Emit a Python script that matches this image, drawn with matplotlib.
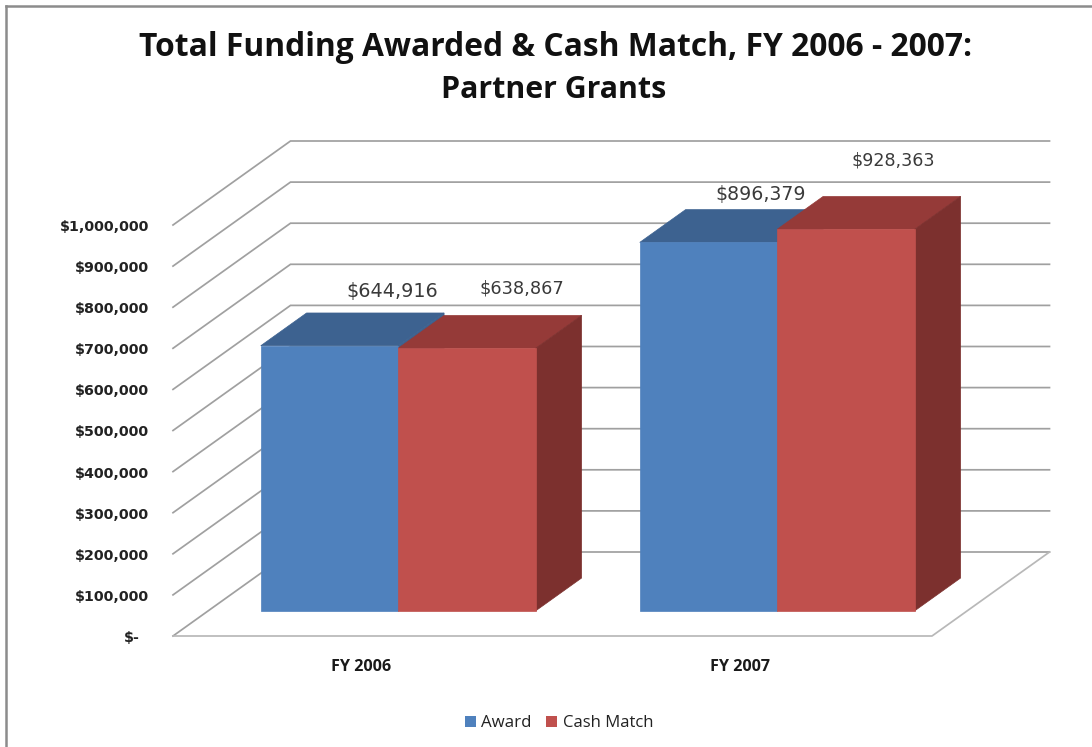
import numpy as np
import matplotlib
matplotlib.use("Agg")
import matplotlib.pyplot as plt
from matplotlib.patches import Polygon, Rectangle

# Data
categories = ["FY 2006", "FY 2007"]
award = [644916, 896379]
cash_match = [638867, 928363]
tick_values = [0, 100000, 200000, 300000, 400000, 500000, 600000, 700000, 800000, 900000, 1000000]
tick_labels = ["$-", "$100,000", "$200,000", "$300,000", "$400,000", "$500,000",
               "$600,000", "$700,000", "$800,000", "$900,000", "$1,000,000"]
award_labels = ["$644,916", "$896,379"]
cash_labels = ["$638,867", "$928,363"]

# Pixel geometry of the fake 3D box
W, H = 1092, 747
px_x0 = 363      # pixel x of first category
px_unit = 379.0  # pixels per category
px_y0 = 636      # pixel y of value 0 on front plane
px_per_dollar = 411 / 1e6
depth_dx = 117.5 / px_unit              # full floor depth, x shift in category units
depth_dy = 84 / px_per_dollar           # full floor depth, y shift in dollars
bar_w = 137.5 / px_unit
bar_d0 = 0.30   # front of bars, as part of floor depth
bar_d1 = 0.69   # back of bars

blue = ("#4F81BD", "#3D6290", "#3D6290")
red = ("#C0504D", "#953A38", "#7C302E")
grid_col = "#a0a0a0"


def proj(x, v, d=0.0):
    # oblique projection: category, value, depth -> data coords of flat axes
    return x + d * depth_dx, v + d * depth_dy


def px(xp, yp):
    # picture position -> data coords, only for placing text
    return (xp - px_x0) / px_unit, (px_y0 - yp) / px_per_dollar


fig = plt.figure(figsize=(W / 100, H / 100), dpi=100)
ax = fig.add_axes([0, 0, 1, 1])
ax.set_xlim(-px_x0 / px_unit, (W - px_x0) / px_unit)
ax.set_ylim((px_y0 - H) / px_per_dollar, px_y0 / px_per_dollar)
ax.axis("off")

x_left = -190 / px_unit
x_right = 569 / px_unit

# gridlines, side wall and back wall
for v in tick_values:
    pts = [proj(x_left, v, 0), proj(x_left, v, 1), proj(x_right, v, 1)]
    ax.plot(*zip(*pts), color=grid_col, lw=1.25, solid_joinstyle="miter", zorder=1)
# floor front edge
floor = [proj(x_left, 0, 0), proj(x_right, 0, 0), proj(x_right, 0, 1)]
ax.plot(*zip(*floor), color="#b8b8b8", lw=1.25, zorder=1)


def draw_bar(x_start, value, cols):
    x_end = x_start + bar_w
    front = [proj(x_start, 0, bar_d0), proj(x_end, 0, bar_d0),
             proj(x_end, value, bar_d0), proj(x_start, value, bar_d0)]
    top = [proj(x_start, value, bar_d0), proj(x_end, value, bar_d0),
           proj(x_end, value, bar_d1), proj(x_start, value, bar_d1)]
    side = [proj(x_end, 0, bar_d0), proj(x_end, 0, bar_d1),
            proj(x_end, value, bar_d1), proj(x_end, value, bar_d0)]
    ax.add_patch(Polygon(top, fc=cols[1], ec=cols[1], lw=0.5, zorder=2))
    ax.add_patch(Polygon(side, fc=cols[2], ec=cols[2], lw=0.5, zorder=2))
    ax.add_patch(Polygon(front, fc=cols[0], ec=cols[0], lw=0.5, zorder=2))


for i in range(len(categories)):
    draw_bar(i - bar_w, award[i], blue)
    draw_bar(i, cash_match[i], red)

# value axis labels
for v, lab in zip(tick_values, tick_labels):
    xp, yp = px(149, px_y0 - v * px_per_dollar + 2)
    ha = "right"
    if v == 0:
        xp = px(132, 0)[0]
        ha = "center"
    ax.text(xp, yp, lab, ha=ha, va="center", fontsize=10.3, fontweight="bold",
            family="DejaVu Sans", color="#222222")

for i, c in enumerate(categories):
    ax.text(i - 0.005, px(0, 667)[1], c, ha="center", va="center", fontsize=11.6,
            fontweight="bold", family="Open Sans", color="#1a1a1a")

# data labels, each sits at its own spot in the original
award_pos = [(392, 291), (761, 195)]
cash_pos = [(522, 288), (893, 161)]
award_size = [13.8, 13.6]
cash_size = [12.8, 12.6]
for lab, p, s in zip(award_labels, award_pos, award_size):
    ax.text(*px(*p), lab, ha="center", va="center", fontsize=s, color="#3a3a3a")
for lab, p, s in zip(cash_labels, cash_pos, cash_size):
    ax.text(*px(*p), lab, ha="center", va="center", fontsize=s, color="#3a3a3a")

# title
ax.text(*px(556, 48), "Total Funding Awarded & Cash Match, FY 2006 - 2007:", ha="center", va="center",
        fontsize=22.9, fontweight="bold", family="Open Sans", color="#111111")
ax.text(*px(554, 90), "Partner Grants", ha="center", va="center",
        fontsize=21.9, fontweight="bold", family="Open Sans", color="#111111")

# legend, drawn by hand to sit on the bottom edge like the original
fig.patches.append(Rectangle((465 / W, 1 - 727 / H), 11 / W, 11 / H, transform=fig.transFigure,
                             fc=blue[0], ec="none"))
fig.patches.append(Rectangle((546 / W, 1 - 727 / H), 11 / W, 11 / H, transform=fig.transFigure,
                             fc=red[0], ec="none"))
ax.text(*px(481, 723), "Award", ha="left", va="center", fontsize=12.2, family="Open Sans", color="#222222")
ax.text(*px(563, 723), "Cash Match", ha="left", va="center", fontsize=12.0, family="Open Sans", color="#222222")

# chart border, only the left and top edges show
fig.add_artist(plt.Line2D([6 / W, 6 / W], [0, 1 - 6 / H], color="#8c8c8c", lw=1.8))
fig.add_artist(plt.Line2D([6 / W, 1], [1 - 6 / H, 1 - 6 / H], color="#8c8c8c", lw=1.8))

fig.savefig("out.png", dpi=100)
